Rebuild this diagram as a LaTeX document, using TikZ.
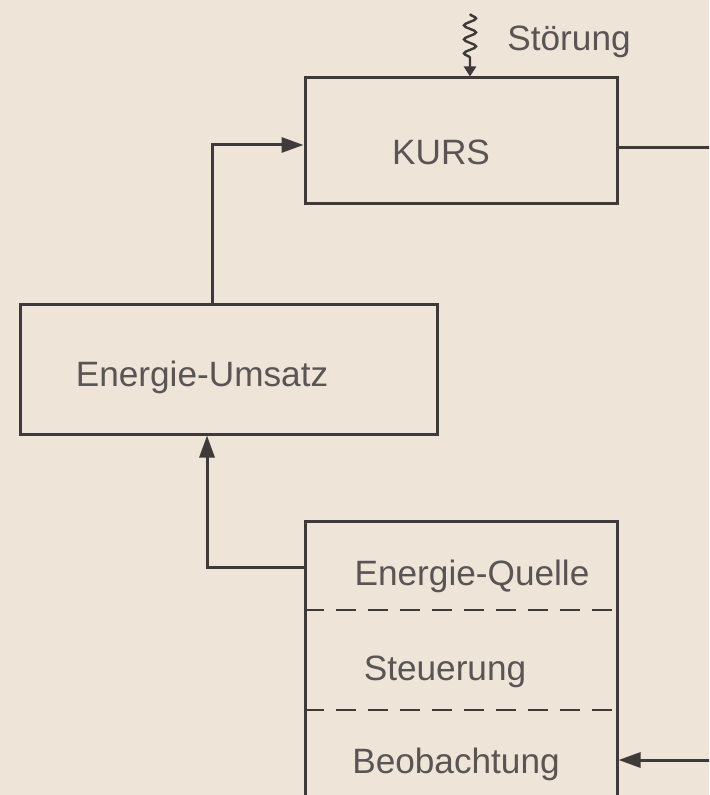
\documentclass[tikz,border=0pt]{standalone}
\usepackage{fontspec}
\setmainfont{Liberation Sans}
\usepackage{xcolor}
\definecolor{bgpaper}{RGB}{238,228,216}
\definecolor{inkline}{RGB}{62,58,58}
\definecolor{inktext}{RGB}{90,85,85}
\usetikzlibrary{arrows.meta, positioning, decorations.pathmorphing}

\begin{document}
\begin{tikzpicture}[x=0.5pt, y=-0.5pt,
  block/.style={draw=inkline, line width=1.5pt, inner sep=0pt},
  lbl/.style={font=\fontsize{17.6}{20}\selectfont, text=inktext, inner sep=0pt},
  flow/.style={draw=inkline, line width=1.5pt, -{Triangle[length=11pt,width=7.5pt]}},
  wire/.style={draw=inkline, line width=1.5pt}]

% Paper and frame
\fill[bgpaper] (0,0) rectangle (709,795);
\clip (0,0) rectangle (709,795);

% --- Blocks ---
\node[block, minimum width=156pt, minimum height=63pt] (kurs) at (461,141) {};
\node[block, minimum width=208.5pt, minimum height=64.5pt] (umsatz) at (228.5,369.5) {};
\node[block, minimum width=156pt, minimum height=160pt, anchor=north] (regler) at (461,520) {};

% Sections of the lower block
\coordinate (sepa) at (0,610);
\coordinate (sepb) at (0,710);
\draw[wire, line width=1.2pt, dash pattern=on 10pt off 6pt] (regler.west |- sepa) -- (regler.east |- sepa);
\draw[wire, line width=1.2pt, dash pattern=on 10pt off 6pt] (regler.west |- sepb) -- (regler.east |- sepb);

% --- Labels ---
\node[lbl] (kurstxt) at (441,152) {KURS};
\node[lbl] (umsatztxt) at (202,377) {Energie-Umsatz};
\node[lbl] (quelle) at (472,576) {Energie-Quelle};
\node[lbl] (steuer) at (445,672) {Steuerung};
\node[lbl] (beob) at (456,764) {Beobachtung};
\node[lbl, anchor=west] (stoer) at (507,42) {Störung};

% --- Connectors ---
\coordinate (kursin) at (212,145);
\draw[flow] (umsatz.north -| kursin) |- (kurs.west |- kursin);

\coordinate (quellout) at (207,567);
\draw[flow] (regler.west |- quellout) -| (umsatz.south -| quellout);

\coordinate (kursout) at (720,148);
\draw[wire] (kurs.east |- kursout) -- (kursout);

\coordinate (beobin) at (720,760);
\draw[flow] (beobin) -- (regler.east |- beobin);

% Disturbance
\coordinate (stoerin) at (470,14);
\draw[draw=inkline, line width=1.2pt, -{Triangle[length=5pt,width=6pt]},
      decorate, decoration={snake, segment length=7pt, amplitude=3pt, post length=6pt}]
  (stoerin) -- (kurs.north -| stoerin);

\end{tikzpicture}
\end{document}
